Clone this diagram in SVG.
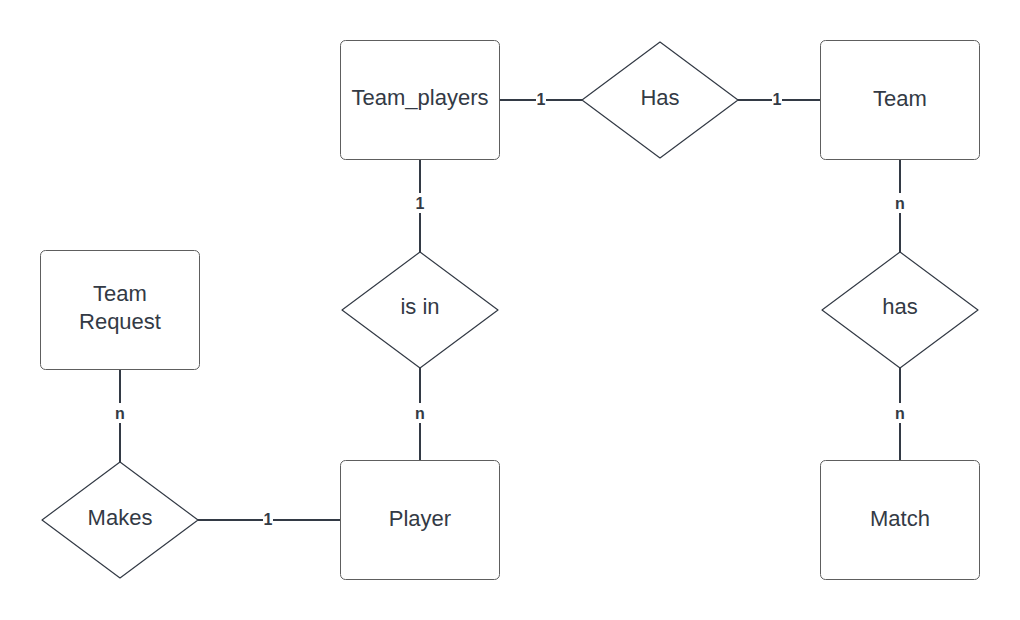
<svg xmlns="http://www.w3.org/2000/svg" width="1020" height="620" viewBox="0 0 1020 620">
<style>
.box{fill:#fff;stroke:#5e5e5e;stroke-width:1}
.dia{fill:#fff;stroke:#333a45;stroke-width:1.2;stroke-linejoin:round}
.t{font-family:"Liberation Sans",Arial,sans-serif;font-size:22px;fill:#333a45;text-anchor:middle;dominant-baseline:central}
.ln{stroke:#333a45;stroke-width:2;fill:none}
.lb{font-family:"Liberation Sans",Arial,sans-serif;font-size:16px;font-weight:bold;fill:#333a45;text-anchor:middle;dominant-baseline:central}
.bg{fill:#fff}
</style>
<rect width="1020" height="620" fill="#fff"/>
<g id="connectors">
<path class="ln" d="M500,100H582"/>
<path class="ln" d="M738,100H820"/>
<path class="ln" d="M420,160V252"/>
<path class="ln" d="M420,368V460"/>
<path class="ln" d="M900,160V252"/>
<path class="ln" d="M900,368V460"/>
<path class="ln" d="M120,370V462"/>
<path class="ln" d="M198,520H340"/>
<rect class="bg" x="536" y="92" width="10" height="16"/><text class="lb" x="541" y="99">1</text>
<rect class="bg" x="772" y="92" width="10" height="16"/><text class="lb" x="777" y="99">1</text>
<rect class="bg" x="413" y="193" width="14" height="20"/><text class="lb" x="420" y="203">1</text>
<rect class="bg" x="413" y="403" width="14" height="20"/><text class="lb" x="420" y="413">n</text>
<rect class="bg" x="893" y="193" width="14" height="20"/><text class="lb" x="900" y="203">n</text>
<rect class="bg" x="893" y="403" width="14" height="20"/><text class="lb" x="900" y="413">n</text>
<rect class="bg" x="113" y="403" width="14" height="20"/><text class="lb" x="120" y="413">n</text>
<rect class="bg" x="263" y="512" width="10" height="16"/><text class="lb" x="268" y="519">1</text>
</g>
<g id="team_players"><rect class="box" x="340.5" y="40.5" width="159" height="119" rx="5"/><text class="t" x="420" y="97">Team_players</text></g>
<g id="team"><rect class="box" x="820.5" y="40.5" width="159" height="119" rx="5"/><text class="t" x="900" y="98">Team</text></g>
<g id="team_request"><rect class="box" x="40.5" y="250.5" width="159" height="119" rx="5"/><text class="t" x="120" y="293">Team</text><text class="t" x="120" y="321">Request</text></g>
<g id="player"><rect class="box" x="340.5" y="460.5" width="159" height="119" rx="5"/><text class="t" x="420" y="518">Player</text></g>
<g id="match"><rect class="box" x="820.5" y="460.5" width="159" height="119" rx="5"/><text class="t" x="900" y="518">Match</text></g>
<g id="has_rel"><path class="dia" d="M660,42L738,100L660,158L582,100Z"/><text class="t" x="660" y="97">Has</text></g>
<g id="is_in"><path class="dia" d="M420,252L498,310L420,368L342,310Z"/><text class="t" x="420" y="306">is in</text></g>
<g id="has_match"><path class="dia" d="M900,252L978,310L900,368L822,310Z"/><text class="t" x="900" y="306">has</text></g>
<g id="makes"><path class="dia" d="M120,462L198,520L120,578L42,520Z"/><text class="t" x="120" y="517">Makes</text></g>
</svg>
